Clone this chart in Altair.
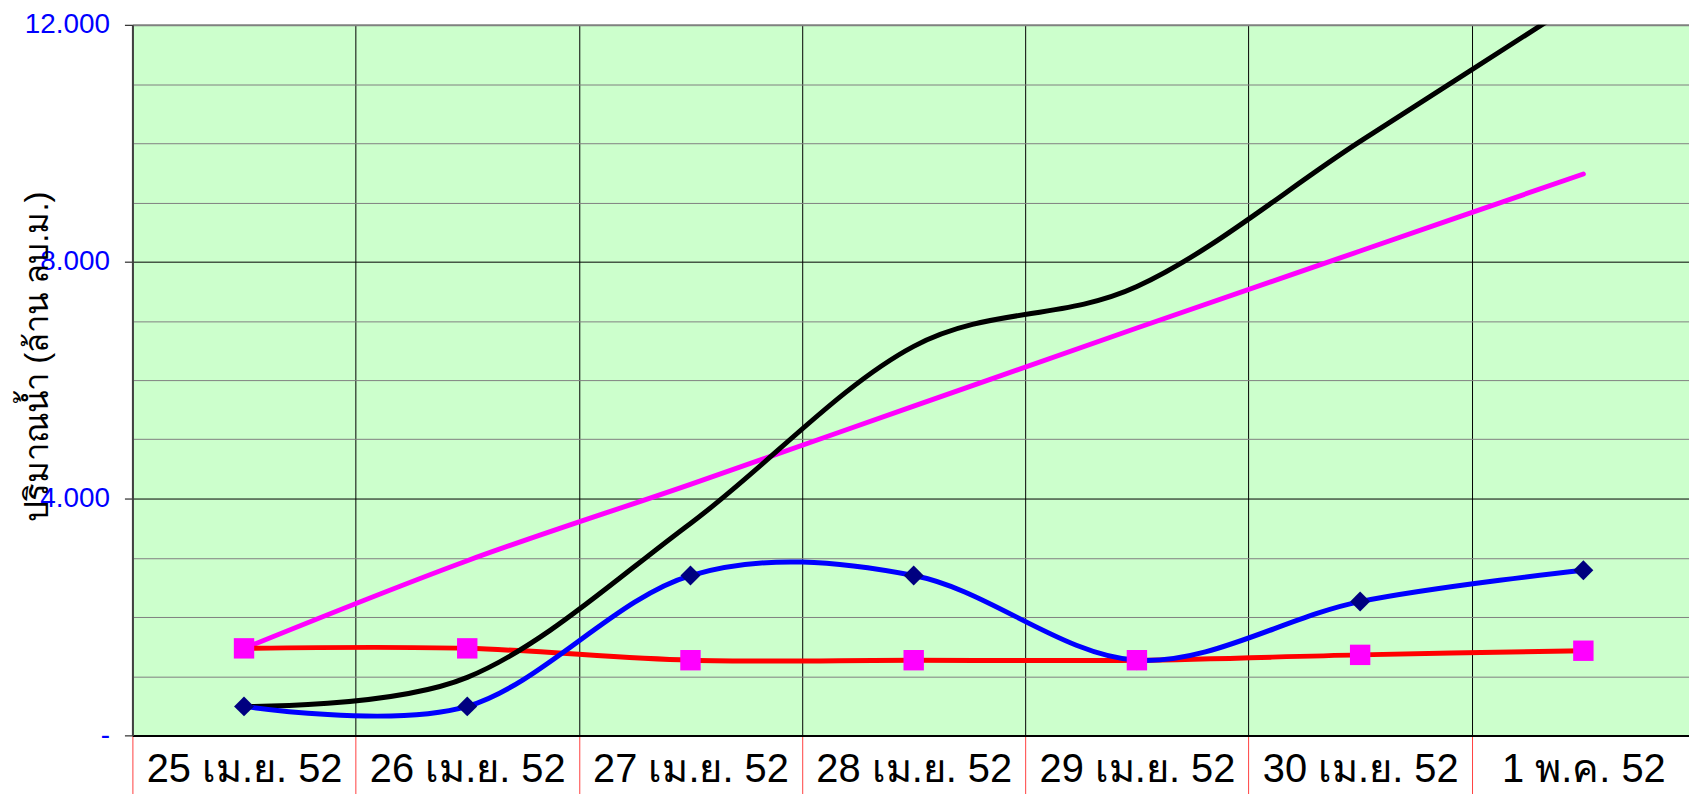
import json
import altair as alt
import pandas as pd

# ---- data ----
dates = ["25 เม.ย. 52", "26 เม.ย. 52", "27 เม.ย. 52", "28 เม.ย. 52",
         "29 เม.ย. 52", "30 เม.ย. 52", "1 พ.ค. 52"]
blue_vals = [490, 490, 2700, 2700, 1270, 2260, 2790]
red_vals = [1470, 1470, 1270, 1270, 1270, 1360, 1430]
magenta_vals = [1470, 2950, 4240, 5560, 6880, 8180, 9480]
black_vals = [490, 980, 3580, 6570, 7580, 10030, 12450]

series_names = ["blue", "red", "magenta", "black"]

y_major = [0, 4000, 8000, 12000]
y_major_labels = ["-", "4.000", "8.000", "12.000"]
y_ticks = list(range(0, 13000, 1000))

axis_title = "ปริมาณน้ำ (ล้าน ลบ.ม.)"

# ---- table ----
idx = list(range(len(dates)))
rows = []
for name, vals in zip(series_names, [blue_vals, red_vals, magenta_vals, black_vals]):
    for i, d, v in zip(idx, dates, vals):
        rows.append({"i": i, "date": d, "value": v, "series": name})
df = pd.DataFrame(rows)

FONT = "Liberation Sans, Arial, DejaVu Sans, Noto Sans, sans-serif"

x_values = [k / 2 - 0.5 for k in range(2 * len(dates) + 1)]
dates_js = json.dumps(dates, ensure_ascii=False)
x_label_expr = f"datum.value % 1 === 0 ? {dates_js}[datum.value] : ''"

ym_js = json.dumps(y_major)
yl_js = json.dumps(y_major_labels, ensure_ascii=False)
y_label_expr = (f"indexof({ym_js}, datum.value) >= 0 ? "
                f"{yl_js}[indexof({ym_js}, datum.value)] : ''")

x_enc = alt.X(
    "i:Q",
    scale=alt.Scale(domain=[-0.5, len(dates) - 0.5], nice=False, zero=False),
    axis=alt.Axis(
        title=None,
        values=x_values,
        labelExpr=x_label_expr,
        labelFont=FONT,
        labelFontSize=40,
        labelColor="#000000",
        labelOverlap=False,
        labelFlush=False,
        labelLimit=0,
        labelBaseline="alphabetic",
        labelPadding=-14,
        grid=True,
        gridColor="#000000",
        gridWidth=1,
        gridOpacity={"condition": {"test": "datum.value % 1 !== 0", "value": 1}, "value": 0},
        ticks=True,
        tickSize=60,
        tickColor="#FF4040",
        tickWidth=1,
        tickOpacity={"condition": {"test": "datum.value % 1 !== 0", "value": 1}, "value": 0},
        domain=True,
        domainColor="#000000",
        domainWidth=2,
    ),
)

y_enc = alt.Y(
    "value:Q",
    scale=alt.Scale(domain=[0, 12000], nice=False),
    axis=alt.Axis(
        title=axis_title,
        titleFont=FONT,
        titleFontSize=33,
        titleFontWeight="normal",
        titleColor="#000000",
        titleAngle=270,
        titleX=-95,
        titleY=333,
        titleAlign="center",
        titleBaseline="middle",
        values=y_ticks,
        labelExpr=y_label_expr,
        labelFont=FONT,
        labelFontSize=28,
        labelColor="#0000FF",
        labelPadding=15,
        labelOverlap=False,
        labelFlush=False,
        grid=True,
        gridColor={"condition": {"test": "datum.value % 4000 === 0 && datum.value < 12000", "value": "#000000"}, "value": "#808080"},
        gridWidth={"condition": {"test": "datum.value === 12000", "value": 2}, "value": 1},
        ticks=True,
        tickSize=8,
        tickColor="#000000",
        tickOpacity={"condition": {"test": "datum.value % 4000 === 0", "value": 1}, "value": 0},
        domain=True,
        domainColor="#404040",
        domainWidth=2,
    ),
)

base = alt.Chart(df)

def line_layer(name, color, interp="cardinal"):
    return base.transform_filter(alt.datum.series == name).mark_line(
        color=color, strokeWidth=5, interpolate=interp, strokeCap="round",
        strokeJoin="round", clip=True
    ).encode(x=x_enc, y=y_enc, order="i:Q")

magenta_line = line_layer("magenta", "#FF00FF")
red_line = line_layer("red", "#FF0000")
black_line = line_layer("black", "#000000")
blue_line = line_layer("blue", "#0000FF")

diamonds = base.transform_filter(alt.datum.series == "blue").mark_point(
    shape="diamond", filled=True, size=400, color="#000080", opacity=1, strokeWidth=0
).encode(x=x_enc, y=y_enc)

squares = base.transform_filter(alt.datum.series == "red").mark_square(
    size=420, color="#FF00FF", opacity=1
).encode(x=x_enc, y=y_enc)

chart = alt.layer(
    magenta_line, red_line, black_line, blue_line, diamonds, squares
).properties(
    width=1570,
    height=714,
    padding={"left": 125, "top": 15, "right": -6, "bottom": 57},
    autosize=alt.AutoSizeParams(type="none"),
    background="#FFFFFF",
).configure_view(
    fill="#CCFFCC",
    stroke=None,
)

chart.save("out.html", embed_options={"renderer": "svg", "actions": False})
